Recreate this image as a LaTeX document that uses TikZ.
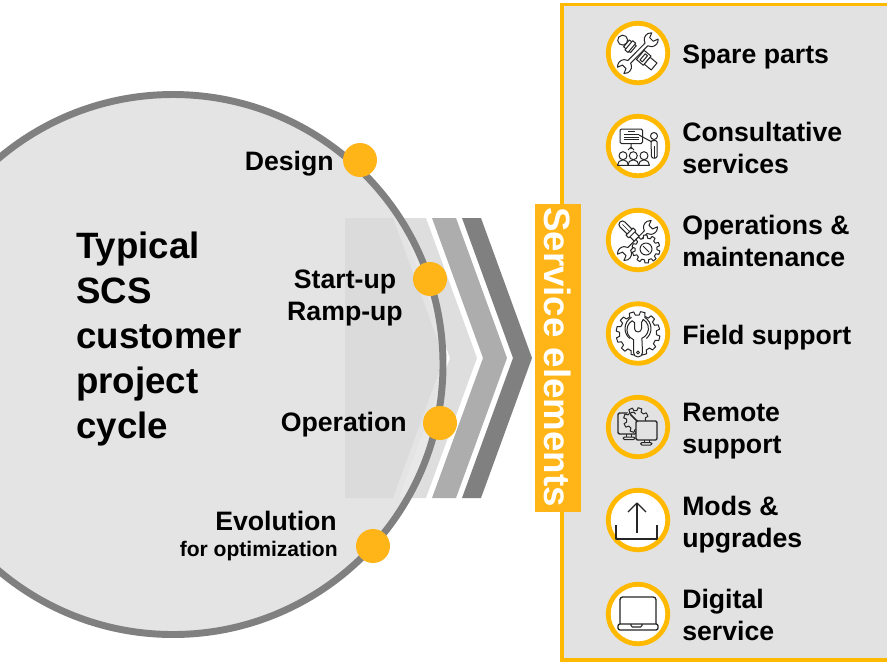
\documentclass[tikz,border=0pt]{standalone}
\usepackage{fontspec}
\setmainfont{Liberation Sans}
\definecolor{amberfill}{HTML}{FFB518}
\definecolor{ringamber}{HTML}{FFB900}
\definecolor{panelgray}{HTML}{E2E2E2}
\definecolor{discgray}{HTML}{E4E4E4}
\tikzset{
  itemlabel/.style = {anchor = west, align = left, inner sep = 0pt, font = \bfseries\fontsize{20}{24}\selectfont},
  phaselabel/.style = {align = center, inner sep = 0pt, font = \bfseries\fontsize{20}{24}\selectfont},
  phasedot/.style = {fill = amberfill, draw = none},
  iconring/.style = {draw = ringamber, line width = 3.6pt, fill = white},
  iconline/.style = {draw = black!85, line width = 0.75pt, line join = round, fill = none},
  iconsolid/.style = {draw = black!85, line width = 0.75pt, line join = round, fill = white}
}
\newcommand\wrenchjaw[2]{(#1-9,-#2) arc[start angle = 196, end angle = 320, radius = 7]
  -- ++(-5,2) -- ++(0,5) -- ++(5,2) arc[start angle = 40, end angle = 164, radius = 7]}
\newcommand\gearoutline[3]{(0:#2) \foreach \t in {1,...,#1} {
  -- ({(\t-1+.12)*360/#1}:#2) -- ({(\t-1+.22)*360/#1}:#3) -- ({(\t-1+.62)*360/#1}:#3) -- ({(\t-1+.72)*360/#1}:#2)} -- cycle}
\begin{document}
\begin{tikzpicture}[x = 0.75pt, y = -0.75pt]
\useasboundingbox (0,0) rectangle (887,662);
\pgfmathsetmacro\chevtop{218};
\pgfmathsetmacro\chevbot{498};
\pgfmathsetmacro\chevmid{358};
\pgfmathsetmacro\chevrun{51};
\clip (0,0) rectangle (887,662);
\fill[fill = panelgray, draw = ringamber, line width = 2.7pt] (562,4.5) rectangle (892,660);
\def\lightchev{(399,\chevtop) -- (426,\chevtop) -- (426+\chevrun,\chevmid) -- (426,\chevbot) -- (399,\chevbot) -- (399+\chevrun,\chevmid) -- cycle}
\fill[fill = black!13] \lightchev;
\fill[fill = black!32] (432,\chevtop) -- (456,\chevtop) -- (456+\chevrun,\chevmid) -- (456,\chevbot) -- (432,\chevbot) -- (432+\chevrun,\chevmid) -- cycle;
\fill[fill = black!50] (462,\chevtop) -- (481,\chevtop) -- (481+\chevrun,\chevmid) -- (481,\chevbot) -- (462,\chevbot) -- (462+\chevrun,\chevmid) -- cycle;
\fill[fill = discgray] (173,364.5) circle (270);
\begin{scope}
\clip (173,364.5) circle (270);
\fill[fill = black!9] \lightchev;
\fill[fill = black!14] (345,\chevtop) -- (393,\chevtop) -- (393+\chevrun,\chevmid) -- (393,\chevbot) -- (345,\chevbot) -- cycle;
\end{scope}
\draw[draw = black!50, line width = 5.2pt] (173,364.5) circle (270);
\foreach \x/\y/\name in {360/160/design, 430/279/startup, 440/423/operation, 373/546/evolution}
  \fill[phasedot] (\x,\y) circle (17) coordinate (dot\name);
\node[anchor = east, phaselabel] (designlabel) at (334,164) {Design};
\node[phaselabel] (startlabel) at (345,298) {Start-up\\Ramp-up};
\node[anchor = east, phaselabel] (oplabel) at (407,425) {Operation};
\node[anchor = east, phaselabel] (evollabel) at (337,521) {Evolution};
\node[anchor = east, align = center, inner sep = 0pt, font = \bfseries\fontsize{15.8}{18}\selectfont] (optlabel) at (338,551) {for optimization};
\node[anchor = west, align = left, inner sep = 0pt, font = \bfseries\fontsize{27.5}{33.75}\selectfont] (cyclelabel) at (76,339) {Typical\\SCS\\customer\\project\\cycle};
\fill[fill = amberfill] (535,204) rectangle (581,512);
\node[rotate = -90, text = white, font = \bfseries\fontsize{27.5}{33}\selectfont] (bandlabel) at (558,357) {Service elements};
\foreach \y/\fillcol in {53/white, 146/white, 240/white, 333.5/white, 427/panelgray, 520/white, 614/white}
  \draw[iconring, fill = \fillcol] (638,\y) circle (29.7);
\node[itemlabel] (sparelabel) at (682,57) {Spare parts};
\node[itemlabel] (consultlabel) at (682,148) {Consultative\\services};
\node[itemlabel] (opslabel) at (682,241) {Operations \&\\maintenance};
\node[itemlabel] (fieldlabel) at (682,338) {Field support};
\node[itemlabel] (remotelabel) at (682,431) {Remote\\support};
\node[itemlabel] (modslabel) at (682,525) {Mods \&\\upgrades};
\node[itemlabel] (digitallabel) at (682,615) {Digital\\service};
\begin{scope}[shift = {(638,53)}]
\draw[iconsolid, rotate = 45] \wrenchjaw{21}{2} -- (-12.4,2) arc[start angle = 16, end angle = 140, radius = 7] -- ++(5,-2) -- ++(0,-5) -- ++(-5,-2) arc[start angle = 220, end angle = 344, radius = 7] -- cycle;
\begin{scope}[rotate = -40]
\draw[iconsolid] (-20,0) circle (5);
\draw[iconsolid] (-15,-4.5) rectangle (-6,4.5);
\draw[iconsolid] (-12,-6) rectangle (-8,6);
\draw[iconsolid] (3,-6) rectangle (12,6);
\draw[iconsolid] (6,-4) rectangle (9,4);
\draw[iconsolid] (12,-4.5) rectangle (21,4.5);
\end{scope}
\end{scope}
\begin{scope}[shift = {(638,146)}]
\draw[iconline, rounded corners = 1pt] (-18,-17) rectangle (4.5,-2.5);
\foreach \y in {-11.5,-9,-6.5} \draw[iconline, line width = .5pt] (-14,\y) -- (0.5,\y);
\draw[iconline, line width = .5pt] (-10,-14.5) -- (-3,-14.5);
\draw[iconline] (-7,-2.5) -- (-7,3) (-7,1) -- (-10,4) (-7,1) -- (-4,4);
\draw[iconline] (1,-11) -- (14,-4);
\draw[iconline] (16,-10) circle (3.5);
\draw[iconline, rounded corners = 1pt] (13,-5.5) -- (19,-5.5) -- (19,12) -- (13.5,12) -- cycle;
\draw[iconline] (16.2,0) -- (16.2,12);
\foreach \x in {-15,-4.7,6} {
  \draw[iconline] (\x,9.7) circle (4);
  \draw[iconline] (\x-5.5,19.3) arc[start angle = 180, end angle = 360, radius = 5.5] -- cycle;
}
\end{scope}
\begin{scope}[shift = {(638,240)}]
\begin{scope}[rotate = -45]
\draw[iconsolid] (-2,-3.5) -- (-22,-3.5) arc[start angle = 270, end angle = 90, radius = 3.5] -- (-2,3.5);
\draw[iconsolid] (-12,-5) rectangle (-8,5);
\draw[iconline, line width = .5pt] (-22,0) -- (-12,0);
\end{scope}
\draw[iconsolid, rotate = 45] \wrenchjaw{20}{2} -- (-12.4,2) arc[start angle = 16, end angle = 140, radius = 7] -- ++(5,-2) -- ++(0,-5) -- ++(-5,-2) arc[start angle = 220, end angle = 344, radius = 7] -- cycle;
\begin{scope}[shift = {(8,9)}]
\draw[iconsolid] \gearoutline{10}{11}{14};
\draw[iconline] (0,0) circle (6);
\draw[iconline] (-3,-3) -- (3,3);
\end{scope}
\end{scope}
\begin{scope}[shift = {(638,333.5)}]
\draw[iconline] \gearoutline{12}{18.5}{22};
\begin{scope}[shift = {(0,-5)}]
\draw[iconline] (-13,0) arc[start angle = 180, end angle = 240, radius = 13] (13,0) arc[start angle = 0, end angle = -60, radius = 13];
\draw[iconline] (-13,0) arc[start angle = 180, end angle = 130, radius = 13] (13,0) arc[start angle = 0, end angle = 50, radius = 13];
\draw[iconsolid] (-4.5,11.1) arc[start angle = 112, end angle = 240, radius = 10.5] -- (-3.5,-6) -- (-3.5,0) arc[start angle = 180, end angle = 0, radius = 3.5] -- (3.5,-6) -- (5.2,-9.1) arc[start angle = 300, end angle = 428, radius = 10.5] -- (4.5,24) arc[start angle = 0, end angle = 180, radius = 4.5] -- cycle;
\draw[iconline] (0,24) circle (1.5);
\end{scope}
\end{scope}
\begin{scope}[shift = {(638,427)}]
\draw[iconline, line width = 1pt, rounded corners = 1pt] (-20,-14) rectangle (-2,7);
\draw[iconline] (-12,7) -- (-12,10) (-7,7) -- (-7,10);
\draw[iconline, rounded corners = 1pt] (-15,10) rectangle (-3,12.5);
\begin{scope}[shift = {(-2,-7)}]
\fill[fill = panelgray] (0,0) circle (11);
\draw[iconline] \gearoutline{8}{9.5}{12.5};
\draw[iconline, rotate = -45, line width = 1.2pt] (-8,0) -- (7,0);
\draw[iconline] (-6,-6) arc[start angle = 200, end angle = 340, radius = 3];
\end{scope}
\draw[iconsolid, line width = 1pt, rounded corners = 1pt, fill = panelgray] (-2,-6) rectangle (19,13);
\draw[iconline] (6,13) -- (6,15.5) (11,13) -- (11,15.5);
\draw[iconline, rounded corners = 1pt] (2.5,15.5) rectangle (14,18);
\end{scope}
\begin{scope}[shift = {(637,520)}]
\draw[iconline, line width = 1pt] (0,13) -- (0,-17);
\draw[iconline, line width = 1pt] (-9,-8) -- (0,-17) -- (9,-8);
\draw[iconline, line width = 1pt] (-21,5) -- (-21,19) -- (20,19) -- (20,5);
\end{scope}
\begin{scope}[shift = {(637,613)}]
\draw[iconline, line width = 1pt, rounded corners = 2pt] (-17,11) -- (-17,-16) -- (19,-16) -- (19,11);
\draw[iconline, line width = 1pt, rounded corners = 1.5pt] (-19,11) rectangle (21,17);
\draw[iconline, line width = .8pt, rounded corners = 1pt] (-6,11) -- (-6,14) -- (5,14) -- (5,11);
\end{scope}
\end{tikzpicture}
\end{document}
